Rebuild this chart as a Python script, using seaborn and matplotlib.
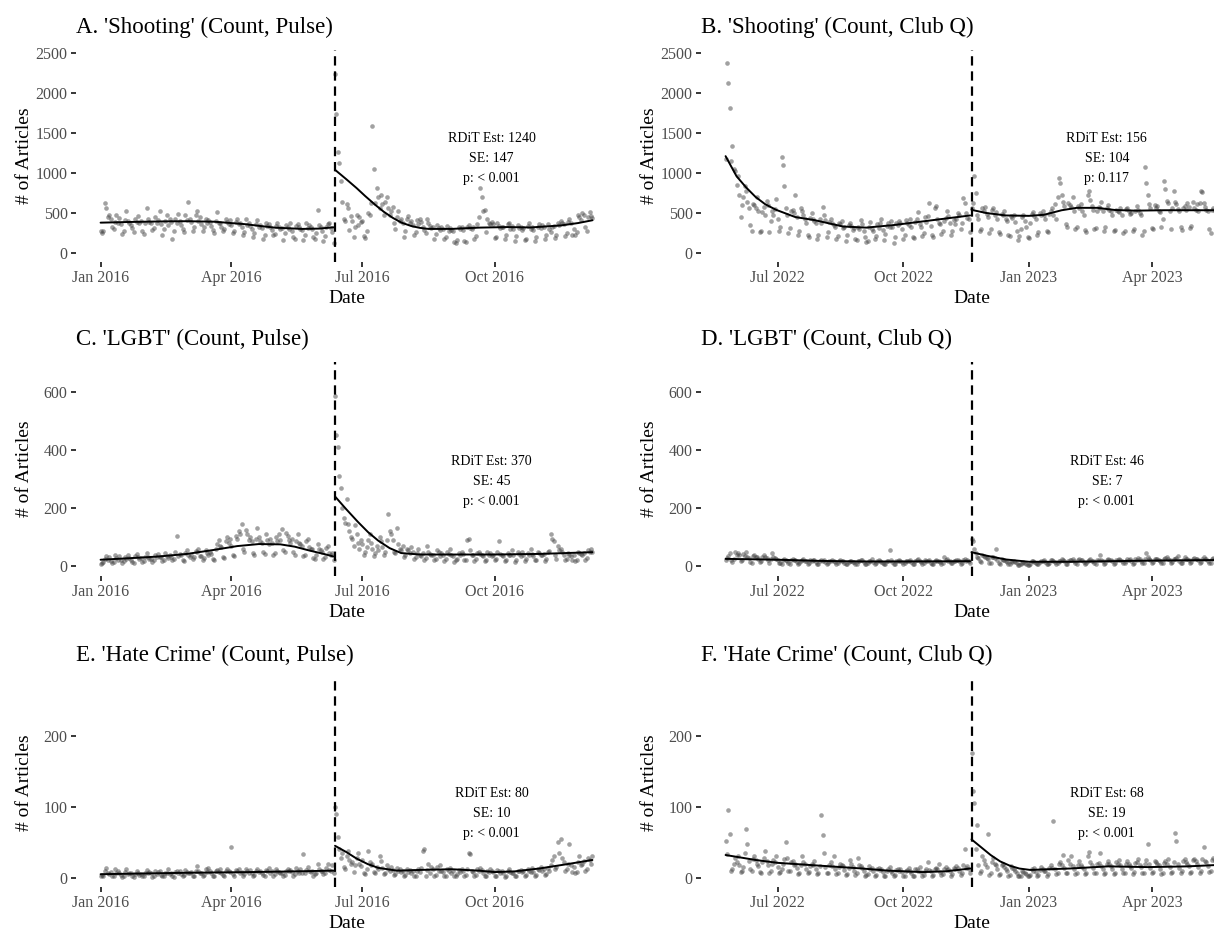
import pandas as pd
import matplotlib
matplotlib.use("Agg")
import matplotlib.pyplot as plt
import matplotlib.dates as mdates
import seaborn as sns

# ------------------------------------------------------------------ events
pulse_event = "2016-06-12"
clubq_event = "2022-11-20"

panel_titles = ["A. 'Shooting' (Count, Pulse)", "B. 'Shooting' (Count, Club Q)",
                "C. 'LGBT' (Count, Pulse)", "D. 'LGBT' (Count, Club Q)",
                "E. 'Hate Crime' (Count, Pulse)", "F. 'Hate Crime' (Count, Club Q)"]
rdit_est = ["1240", "156", "370", "46", "80", "68"]
rdit_se = ["147", "104", "45", "7", "10", "19"]
rdit_p = ["< 0.001", "0.117", "< 0.001", "< 0.001", "< 0.001", "< 0.001"]

# ------------------------------------------------------------------ A: Shooting, Pulse (daily counts)
shoot_pulse_pre = [
    270, 250, 280, 630, 560, 450, 470, 420, 330, 300, 390, 470, 380, 440,
    360, 240, 270, 410, 520, 400, 380, 350, 310, 260, 420, 390, 460, 370,
    400, 280, 240, 380, 560, 430, 390, 370, 290, 310, 450, 380, 410, 520,
    360, 230, 300, 400, 470, 350, 430, 390, 170, 280, 420, 380, 490, 400,
    350, 300, 260, 470, 410, 640, 420, 390, 280, 330, 470, 530, 400, 450,
    360, 270, 320, 430, 380, 410, 390, 340, 290, 250, 400, 510, 380, 370,
    330, 270, 300, 420, 390, 360, 410, 350, 250, 280, 390, 430, 360, 380,
    320, 230, 260, 420, 350, 380, 340, 300, 200, 250, 360, 410, 330, 350,
    310, 180, 230, 380, 340, 360, 320, 290, 220, 240, 340, 370, 330, 300,
    310, 160, 250, 350, 330, 300, 370, 280, 200, 170, 340, 360, 320, 300,
    290, 160, 230, 380, 310, 350, 330, 300, 200, 180, 250, 540, 350, 320,
    270, 150, 210, 330, 360, 380, 310, 260, 120]
shoot_pulse_post = [
    2240, 1740, 1260, 1120, 900,
    640, 430, 400, 610, 560, 290, 460, 400, 200, 320, 470, 350, 450, 390,
    400, 210, 190, 280, 500, 470, 620, 1590, 1050, 620, 810, 700, 560, 720,
    610, 480, 640, 700, 560, 470, 520, 580, 380, 300, 450, 520, 400, 430,
    380, 200, 280, 420, 460, 380, 400, 350, 230, 260, 410, 360, 430, 390,
    330, 290, 250, 420, 370, 340, 310, 320, 170, 240, 350, 310, 290, 330,
    300, 180, 200, 340, 280, 310, 290, 270, 140, 130, 160, 320, 300, 330,
    290, 150, 140, 320, 350, 310, 300, 330, 180, 210, 360, 450, 810, 700,
    530, 540, 260, 430, 380, 360, 390, 360, 190, 200, 380, 340, 310, 330,
    320, 170, 230, 360, 380, 300, 340, 300, 150, 210, 350, 310, 330, 290,
    310, 160, 180, 340, 370, 300, 320, 290, 150, 200, 330, 360, 310, 350,
    320, 170, 230, 360, 300, 260, 330, 340, 190, 220, 380, 350, 400, 370,
    360, 210, 250, 390, 420, 380, 230, 300, 220, 260, 470, 450, 410, 500,
    470, 330, 280, 450, 510, 460, 440]

# ------------------------------------------------------------------ B: Shooting, Club Q
shoot_clubq_pre = [
    1180, 2370, 2120, 1810, 1150, 1340, 1050, 1020, 850, 960, 720, 450, 600, 700,
    840, 770, 640, 560, 350, 270, 610, 600, 560, 700, 520, 260, 270, 510,
    580, 480, 650, 600, 260, 400, 520, 470, 550, 680, 420, 270, 330, 1200,
    1100, 840, 560, 480, 250, 310, 520, 540, 500, 730, 450, 230, 270, 560,
    520, 470, 420, 380, 220, 200, 440, 500, 430, 400, 370, 180, 220, 420,
    380, 580, 470, 410, 200, 260, 390, 420, 380, 350, 330, 180, 210, 380,
    360, 400, 310, 320, 150, 230, 350, 380, 340, 290, 310, 170, 160, 330,
    300, 410, 360, 280, 200, 140, 150, 330, 390, 300, 280, 170, 210, 360,
    310, 370, 420, 290, 160, 240, 340, 380, 330, 400, 320, 130, 200, 380,
    350, 400, 370, 300, 170, 230, 410, 380, 350, 430, 330, 200, 190, 390,
    420, 510, 360, 330, 210, 250, 450, 390, 460, 630, 340, 230, 200, 560,
    590, 420, 380, 360, 240, 270, 400, 440, 520, 460, 380, 230, 280, 410,
    360, 420, 500, 470, 300, 370, 690, 630, 500, 440, 420, 260]
shoot_clubq_post = [
    560, 620,
    960, 750, 480, 430, 270, 300, 560, 520, 580, 490, 450, 250, 300, 540,
    560, 470, 510, 420, 260, 240, 490, 470, 530, 430, 400, 230, 210, 460,
    440, 480, 390, 280, 160, 210, 300, 450, 470, 400, 330, 200, 190, 380,
    490, 510, 460, 420, 230, 260, 500, 470, 520, 480, 430, 270, 260, 490,
    520, 560, 480, 610, 420, 700, 940, 870, 730, 640, 590, 360, 330, 620,
    600, 580, 700, 520, 300, 330, 590, 560, 610, 520, 480, 290, 260, 720,
    780, 660, 590, 540, 300, 310, 520, 580, 560, 640, 520, 280, 320, 560,
    600, 540, 520, 470, 270, 290, 540, 530, 510, 560, 480, 250, 280, 550,
    560, 520, 490, 500, 270, 300, 520, 590, 540, 500, 480, 230, 280, 1070,
    870, 720, 610, 560, 310, 300, 600, 560, 590, 520, 510, 330, 420, 900,
    800, 650, 620, 530, 300, 560, 780, 640, 610, 550, 520, 320, 290, 560,
    590, 540, 620, 580, 310, 340, 640, 560, 540, 610, 520, 620, 770, 760,
    620, 570, 540, 520, 300, 250, 540, 560, 520, 500, 480]

# ------------------------------------------------------------------ C: LGBT, Pulse
lgbt_pulse_pre = [
    8, 12, 15, 25, 35, 20, 30, 18, 10, 14, 40, 28, 22, 35,
    20, 12, 18, 30, 25, 38, 27, 22, 15, 10, 35, 42, 30, 25,
    28, 14, 17, 33, 45, 30, 26, 24, 15, 20, 38, 30, 42, 33,
    30, 18, 22, 45, 36, 28, 40, 32, 20, 25, 48, 104, 35, 42,
    38, 22, 18, 45, 55, 40, 33, 40, 25, 30, 52, 48, 60, 35,
    36, 20, 28, 55, 45, 38, 50, 42, 26, 22, 60, 75, 90, 70,
    65, 30, 28, 85, 100, 80, 95, 70, 40, 35, 105, 95, 120, 110,
    145, 60, 50, 125, 110, 90, 100, 85, 45, 40, 95, 130, 100, 88,
    80, 50, 42, 110, 90, 75, 95, 78, 40, 45, 100, 85, 110, 90,
    127, 55, 48, 115, 105, 90, 80, 95, 50, 40, 88, 110, 80, 75,
    70, 35, 38, 85, 92, 65, 60, 58, 28, 25, 40, 75, 60, 55,
    50, 25, 30, 62, 70, 45, 40, 45, 22]
lgbt_pulse_post = [
    585, 450, 410, 310, 270,
    200, 165, 150, 230, 145, 120, 100, 95, 70, 140, 110, 80, 60, 90,
    75, 40, 50, 65, 90, 110, 80, 60, 35, 45, 70, 55, 100, 85,
    65, 40, 50, 90, 180, 120, 110, 90, 50, 45, 130, 75, 60, 55,
    70, 30, 40, 60, 55, 45, 65, 50, 25, 30, 45, 60, 40, 35,
    45, 20, 28, 70, 50, 42, 38, 40, 22, 25, 55, 48, 35, 45,
    38, 18, 24, 50, 42, 60, 40, 35, 15, 20, 25, 45, 38, 50,
    42, 20, 22, 90, 95, 55, 37, 40, 18, 25, 45, 50, 42, 38,
    36, 16, 22, 48, 40, 45, 35, 38, 20, 25, 50, 85, 42, 40,
    35, 18, 22, 45, 40, 38, 55, 40, 15, 20, 48, 42, 36, 50,
    38, 18, 25, 45, 40, 58, 42, 35, 20, 22, 50, 45, 40, 38,
    42, 18, 24, 48, 52, 110, 95, 88, 40, 26, 70, 55, 60, 50,
    38, 20, 25, 45, 40, 35, 20, 40, 18, 22, 50, 45, 42, 38,
    45, 22, 28, 55, 50, 60, 48]

# ------------------------------------------------------------------ D: LGBT, Club Q
lgbt_clubq_pre = [
    22, 28, 35, 45, 20, 15, 25, 50, 40, 45, 38, 18, 22, 42,
    35, 48, 30, 28, 15, 12, 36, 40, 32, 30, 25, 14, 18, 30,
    38, 30, 28, 22, 12, 25, 45, 30, 28, 25, 20, 10, 12, 8,
    22, 25, 20, 18, 10, 8, 20, 25, 22, 20, 15, 8, 10, 18,
    20, 24, 18, 16, 8, 12, 22, 18, 20, 22, 15, 7, 9, 17,
    20, 18, 22, 14, 8, 10, 16, 18, 22, 16, 14, 6, 10, 18,
    20, 16, 18, 12, 7, 9, 15, 17, 19, 15, 13, 6, 8, 16,
    18, 20, 22, 14, 7, 6, 10, 17, 19, 24, 13, 8, 10, 18,
    20, 18, 15, 12, 6, 9, 17, 18, 55, 20, 14, 7, 8, 19,
    16, 22, 18, 13, 6, 10, 18, 19, 17, 21, 15, 8, 9, 16,
    20, 24, 18, 14, 7, 10, 22, 18, 16, 20, 12, 8, 9, 17,
    22, 18, 19, 15, 9, 11, 30, 20, 24, 18, 16, 10, 12, 19,
    17, 22, 20, 18, 9, 11, 21, 24, 18, 20, 16, 12]
lgbt_clubq_post = [
    95, 85,
    60, 45, 30, 28, 18, 15, 40, 35, 30, 28, 25, 12, 10, 30,
    32, 28, 58, 22, 10, 9, 25, 22, 20, 18, 15, 7, 6, 18,
    15, 18, 14, 10, 5, 4, 6, 12, 14, 10, 9, 5, 4, 8,
    16, 18, 14, 12, 6, 7, 15, 18, 16, 20, 14, 8, 6, 12,
    20, 22, 18, 15, 9, 10, 19, 18, 24, 20, 16, 8, 9, 17,
    22, 20, 25, 18, 10, 8, 20, 24, 20, 22, 15, 9, 11, 18,
    21, 25, 19, 16, 10, 9, 20, 22, 38, 20, 17, 8, 10, 21,
    24, 22, 20, 18, 9, 12, 22, 20, 26, 22, 16, 10, 11, 19,
    25, 21, 23, 18, 9, 10, 24, 22, 28, 24, 19, 11, 12, 26,
    46, 30, 25, 20, 12, 14, 24, 26, 24, 22, 19, 10, 12, 25,
    28, 30, 24, 20, 12, 14, 26, 24, 27, 35, 18, 10, 12, 22,
    30, 26, 24, 20, 11, 13, 25, 28, 25, 23, 20, 12, 14, 24,
    30, 26, 25, 19, 11, 10, 23, 27, 24, 30, 20]

# ------------------------------------------------------------------ E: Hate Crime, Pulse
hate_pulse_pre = [
    2, 4, 3, 10, 14, 6, 5, 8, 2, 3, 12, 6, 9, 7,
    4, 1, 2, 8, 13, 5, 6, 6, 2, 1, 5, 9, 7, 4,
    5, 3, 2, 7, 11, 6, 8, 6, 1, 3, 9, 5, 8, 10,
    4, 2, 2, 6, 7, 12, 5, 7, 3, 1, 8, 10, 6, 9,
    5, 2, 4, 11, 8, 7, 6, 8, 3, 2, 10, 17, 9, 7,
    6, 2, 4, 12, 8, 14, 10, 7, 3, 2, 9, 11, 8, 12,
    6, 4, 3, 10, 13, 9, 8, 43, 5, 3, 11, 9, 12, 7,
    8, 3, 5, 13, 10, 7, 11, 6, 2, 4, 9, 12, 8, 10,
    7, 4, 3, 11, 9, 14, 6, 9, 3, 5, 12, 10, 8, 7,
    6, 2, 4, 10, 13, 9, 11, 8, 3, 5, 14, 9, 7, 12,
    7, 33, 6, 11, 15, 10, 8, 9, 3, 5, 7, 20, 12, 10,
    10, 5, 6, 14, 20, 11, 9, 18, 6]
hate_pulse_post = [
    100, 90, 57, 40, 28,
    35, 15, 12, 30, 38, 25, 20, 22, 8, 18, 28, 35, 20, 16,
    25, 6, 5, 12, 38, 22, 18, 20, 8, 7, 15, 12, 30, 24,
    14, 5, 6, 18, 12, 10, 15, 11, 4, 5, 14, 9, 12, 8,
    10, 3, 4, 12, 8, 11, 7, 9, 3, 2, 10, 12, 8, 14,
    38, 40, 3, 11, 20, 7, 15, 12, 3, 4, 15, 10, 18, 9,
    8, 2, 3, 12, 9, 14, 7, 10, 2, 3, 5, 11, 8, 12,
    9, 3, 4, 13, 35, 33, 10, 8, 3, 4, 12, 9, 14, 11,
    7, 2, 3, 10, 8, 12, 9, 8, 2, 3, 11, 9, 7, 10,
    6, 1, 2, 9, 12, 8, 7, 7, 2, 3, 10, 9, 11, 8,
    9, 2, 4, 12, 10, 8, 14, 8, 3, 4, 13, 11, 15, 10,
    12, 4, 5, 14, 10, 18, 25, 30, 12, 15, 51, 35, 55, 28,
    22, 10, 12, 20, 48, 18, 8, 15, 6, 8, 22, 30, 18, 20,
    24, 10, 12, 28, 25, 20, 30]

# ------------------------------------------------------------------ F: Hate Crime, Club Q
hate_clubq_pre = [
    52, 33, 96, 61, 10, 12, 20, 28, 22, 30, 18, 8, 10, 15,
    35, 68, 47, 24, 12, 9, 27, 30, 25, 20, 16, 8, 6, 22,
    28, 38, 24, 18, 7, 10, 20, 25, 22, 30, 15, 6, 8, 12,
    20, 27, 50, 28, 9, 10, 22, 24, 18, 20, 14, 5, 7, 18,
    30, 22, 19, 13, 6, 8, 16, 20, 18, 23, 12, 5, 6, 17,
    88, 60, 35, 15, 6, 7, 18, 22, 17, 30, 12, 5, 6, 15,
    20, 18, 16, 11, 4, 5, 14, 25, 19, 15, 10, 4, 6, 28,
    18, 16, 14, 10, 3, 4, 5, 16, 12, 14, 9, 3, 4, 12,
    14, 11, 13, 8, 2, 3, 10, 12, 15, 10, 7, 2, 4, 11,
    13, 10, 12, 8, 3, 3, 9, 11, 14, 9, 7, 2, 3, 12,
    13, 10, 15, 8, 3, 4, 10, 12, 22, 11, 9, 3, 4, 13,
    14, 12, 20, 8, 4, 5, 12, 15, 11, 13, 10, 3, 5, 14,
    12, 16, 14, 9, 4, 6, 18, 40, 14, 16, 12, 6]
hate_clubq_post = [
    175, 122,
    105, 40, 74, 18, 6, 10, 30, 25, 20, 15, 61, 4, 6, 22,
    28, 20, 18, 12, 4, 5, 18, 20, 15, 12, 10, 3, 4, 16,
    14, 12, 9, 6, 2, 2, 3, 10, 8, 7, 5, 2, 3, 4,
    12, 10, 14, 8, 3, 4, 11, 15, 12, 10, 9, 3, 5, 14,
    18, 14, 80, 12, 5, 6, 20, 22, 18, 32, 14, 6, 7, 25,
    20, 30, 17, 13, 5, 6, 18, 24, 18, 15, 12, 5, 6, 30,
    36, 22, 18, 14, 6, 7, 19, 21, 35, 17, 12, 5, 6, 20,
    23, 19, 16, 13, 5, 7, 22, 20, 25, 18, 12, 6, 6, 19,
    24, 20, 17, 14, 5, 8, 21, 22, 26, 18, 15, 6, 7, 20,
    25, 48, 20, 14, 6, 8, 23, 22, 20, 18, 13, 5, 7, 21,
    24, 20, 26, 15, 6, 8, 22, 63, 52, 20, 14, 7, 9, 24,
    26, 22, 19, 16, 6, 8, 25, 27, 23, 20, 15, 7, 9, 26,
    43, 24, 22, 16, 8, 10, 25, 28, 24, 22, 18]

# ------------------------------------------------------------------ fitted (smoothed) curves
shoot_pulse_fit_pre_dates = ["2016-01-01", "2016-01-20", "2016-02-10", "2016-03-01", "2016-03-20",
                             "2016-04-10", "2016-05-01", "2016-05-20", "2016-06-01", "2016-06-11"]
shoot_pulse_fit_pre = [380, 388, 395, 398, 392, 362, 318, 302, 306, 322]
shoot_pulse_fit_post_dates = ["2016-06-12", "2016-06-20", "2016-06-27", "2016-07-03", "2016-07-10",
                              "2016-07-16", "2016-07-22", "2016-07-28", "2016-08-04", "2016-08-10",
                              "2016-08-16", "2016-09-01", "2016-09-20", "2016-10-10", "2016-10-26",
                              "2016-11-16", "2016-11-28", "2016-12-08"]
shoot_pulse_fit_post = [1040, 920, 812, 712, 602, 515, 442, 382, 338, 315,
                        302, 302, 318, 325, 320, 345, 375, 410]

shoot_clubq_fit_pre_dates = ["2022-05-24", "2022-06-01", "2022-06-08", "2022-06-15", "2022-06-22",
                             "2022-06-30", "2022-07-14", "2022-07-28", "2022-08-18", "2022-09-04",
                             "2022-09-24", "2022-10-23", "2022-11-19"]
shoot_clubq_fit_pre = [1210, 960, 820, 700, 610, 540, 450, 412, 332, 318, 350, 412, 470]
shoot_clubq_fit_post_dates = ["2022-11-20", "2022-12-01", "2022-12-15", "2023-01-01", "2023-01-12",
                              "2023-01-25", "2023-02-05", "2023-02-20", "2023-03-05", "2023-03-20",
                              "2023-04-10", "2023-05-01", "2023-05-19"]
shoot_clubq_fit_post = [540, 500, 470, 465, 478, 535, 565, 565, 538, 530, 535, 535, 535]

lgbt_pulse_fit_pre_dates = ["2016-01-01", "2016-01-20", "2016-02-10", "2016-03-01", "2016-03-20",
                            "2016-04-05", "2016-04-20", "2016-05-05", "2016-05-15", "2016-05-25",
                            "2016-06-05", "2016-06-11"]
lgbt_pulse_fit_pre = [22, 27, 33, 42, 56, 69, 76, 75, 67, 54, 41, 33]
lgbt_pulse_fit_post_dates = ["2016-06-12", "2016-06-20", "2016-06-28", "2016-07-05", "2016-07-12",
                             "2016-07-20", "2016-07-28", "2016-08-10", "2016-09-01", "2016-10-01",
                             "2016-11-01", "2016-12-08"]
lgbt_pulse_fit_post = [240, 195, 152, 117, 88, 62, 45, 40, 40, 40, 42, 48]

lgbt_clubq_fit_pre_dates = ["2022-05-24", "2022-07-01", "2022-08-01", "2022-09-01", "2022-10-01",
                            "2022-11-19"]
lgbt_clubq_fit_pre = [25, 22, 18, 16, 16, 17]
lgbt_clubq_fit_post_dates = ["2022-11-20", "2022-12-01", "2022-12-15", "2023-01-01", "2023-02-01",
                             "2023-03-01", "2023-04-01", "2023-05-19"]
lgbt_clubq_fit_post = [48, 36, 23, 15, 15, 17, 19, 21]

hate_pulse_fit_pre_dates = ["2016-01-01", "2016-03-01", "2016-04-15", "2016-05-15", "2016-06-11"]
hate_pulse_fit_pre = [5, 7, 8, 9, 10]
hate_pulse_fit_post_dates = ["2016-06-12", "2016-06-20", "2016-06-27", "2016-07-05", "2016-07-12",
                             "2016-07-25", "2016-08-10", "2016-09-01", "2016-09-20", "2016-10-01",
                             "2016-10-15", "2016-11-01", "2016-11-20", "2016-12-08"]
hate_pulse_fit_post = [45, 36, 27, 19, 14, 10, 11, 12, 10, 8, 9, 13, 19, 25]

hate_clubq_fit_pre_dates = ["2022-05-24", "2022-06-15", "2022-07-01", "2022-08-01", "2022-09-01",
                            "2022-09-20", "2022-10-15", "2022-11-01", "2022-11-19"]
hate_clubq_fit_pre = [32, 25, 21, 17, 13, 10, 8, 9, 13]
hate_clubq_fit_post_dates = ["2022-11-20", "2022-11-27", "2022-12-04", "2022-12-11", "2022-12-18",
                             "2022-12-25", "2023-01-02", "2023-01-15", "2023-01-31", "2023-02-28",
                             "2023-03-29", "2023-04-27", "2023-05-19"]
hate_clubq_fit_post = [54, 43, 32, 23, 17, 13, 11, 12, 13, 16, 15, 16, 18]

# annotation anchors (date, y of middle line)
annot_dates = ["2016-09-29", "2023-02-27"]
annot_y = [1180, 1180, 293, 293, 90, 90]

# axis settings per row
row_ylims = [(-111, 2535), (-34, 703), (-13, 281)]
row_yticks = [[0, 500, 1000, 1500, 2000, 2500], [0, 200, 400, 600], [0, 100, 200]]


def daily_frame(pre, post, event):
    ev = pd.Timestamp(event)
    d_pre = pd.date_range(end=ev - pd.Timedelta(days=1), periods=len(pre), freq="D")
    d_post = pd.date_range(start=ev, periods=len(post), freq="D")
    return pd.DataFrame({"Date": list(d_pre) + list(d_post),
                         "Articles": list(pre) + list(post)})


def fit_frame(d_pre, v_pre, d_post, v_post):
    return pd.DataFrame({"Date": pd.to_datetime(list(d_pre) + list(d_post)),
                         "Fit": list(v_pre) + list(v_post),
                         "side": ["pre"] * len(d_pre) + ["post"] * len(d_post)})


panels = [
    (shoot_pulse_pre, shoot_pulse_post, pulse_event,
     fit_frame(shoot_pulse_fit_pre_dates, shoot_pulse_fit_pre, shoot_pulse_fit_post_dates, shoot_pulse_fit_post)),
    (shoot_clubq_pre, shoot_clubq_post, clubq_event,
     fit_frame(shoot_clubq_fit_pre_dates, shoot_clubq_fit_pre, shoot_clubq_fit_post_dates, shoot_clubq_fit_post)),
    (lgbt_pulse_pre, lgbt_pulse_post, pulse_event,
     fit_frame(lgbt_pulse_fit_pre_dates, lgbt_pulse_fit_pre, lgbt_pulse_fit_post_dates, lgbt_pulse_fit_post)),
    (lgbt_clubq_pre, lgbt_clubq_post, clubq_event,
     fit_frame(lgbt_clubq_fit_pre_dates, lgbt_clubq_fit_pre, lgbt_clubq_fit_post_dates, lgbt_clubq_fit_post)),
    (hate_pulse_pre, hate_pulse_post, pulse_event,
     fit_frame(hate_pulse_fit_pre_dates, hate_pulse_fit_pre, hate_pulse_fit_post_dates, hate_pulse_fit_post)),
    (hate_clubq_pre, hate_clubq_post, clubq_event,
     fit_frame(hate_clubq_fit_pre_dates, hate_clubq_fit_pre, hate_clubq_fit_post_dates, hate_clubq_fit_post)),
]

sns.set_theme(style="white")
plt.rcParams["font.family"] = ["Liberation Serif", "DejaVu Serif"]

W, H = 1214, 930
fig = plt.figure(figsize=(W / 100, H / 100), dpi=100)

col_left_px = [76, 701]
panel_w_px = 541
row_top_px = [50, 362, 678]
row_bot_px = [262, 576, 887]

for i, (pre, post, event, fit) in enumerate(panels):
    r, c = divmod(i, 2)
    left = col_left_px[c] / W
    bottom = (H - row_bot_px[r]) / H
    height = (row_bot_px[r] - row_top_px[r]) / H
    ax = fig.add_axes([left, bottom, panel_w_px / W, height])

    df = daily_frame(pre, post, event)
    sns.scatterplot(data=df, x="Date", y="Articles", ax=ax, color="#444444",
                    alpha=0.5, s=11, linewidth=0, legend=False, zorder=2)
    sns.lineplot(data=fit, x="Date", y="Fit", units="side", estimator=None,
                 ax=ax, color="black", linewidth=1.4, legend=False, zorder=3)
    ax.axvline(pd.Timestamp(event), color="black", linewidth=1.6,
               linestyle=(0, (4.2, 2.6)), zorder=4)

    # ggplot-like 5% expansion of the date range
    dmin, dmax = df["Date"].min(), df["Date"].max()
    pad = (dmax - dmin) * 0.05
    ax.set_xlim(dmin - pad, dmax + pad)
    ax.set_ylim(*row_ylims[r])
    ax.set_yticks(row_yticks[r])
    ax.xaxis.set_major_locator(mdates.MonthLocator(bymonth=[1, 4, 7, 10]))
    ax.xaxis.set_major_formatter(mdates.DateFormatter("%b %Y"))

    for sp in ax.spines.values():
        sp.set_visible(False)
    ax.grid(False)
    ax.tick_params(axis="both", which="major", bottom=True, left=True,
                   length=3.5, width=1.1, color="black", labelcolor="#4d4d4d",
                   labelsize=11.5, pad=2.5)

    ax.set_xlabel("Date", fontsize=14, color="black", labelpad=2.5)
    ax.set_ylabel("# of Articles", fontsize=14, color="black")
    ax.yaxis.set_label_coords(-0.08, 0.5)
    ax.set_title(panel_titles[i], loc="left", fontsize=16.5, color="black", pad=12)

    txt = f"RDiT Est: {rdit_est[i]}\nSE: {rdit_se[i]}\np: {rdit_p[i]}"
    ax.text(pd.Timestamp(annot_dates[c]), annot_y[i], txt, ha="center", va="center",
            fontsize=10, linespacing=1.7, color="black", zorder=5)

fig.savefig("out.png", dpi=100)
